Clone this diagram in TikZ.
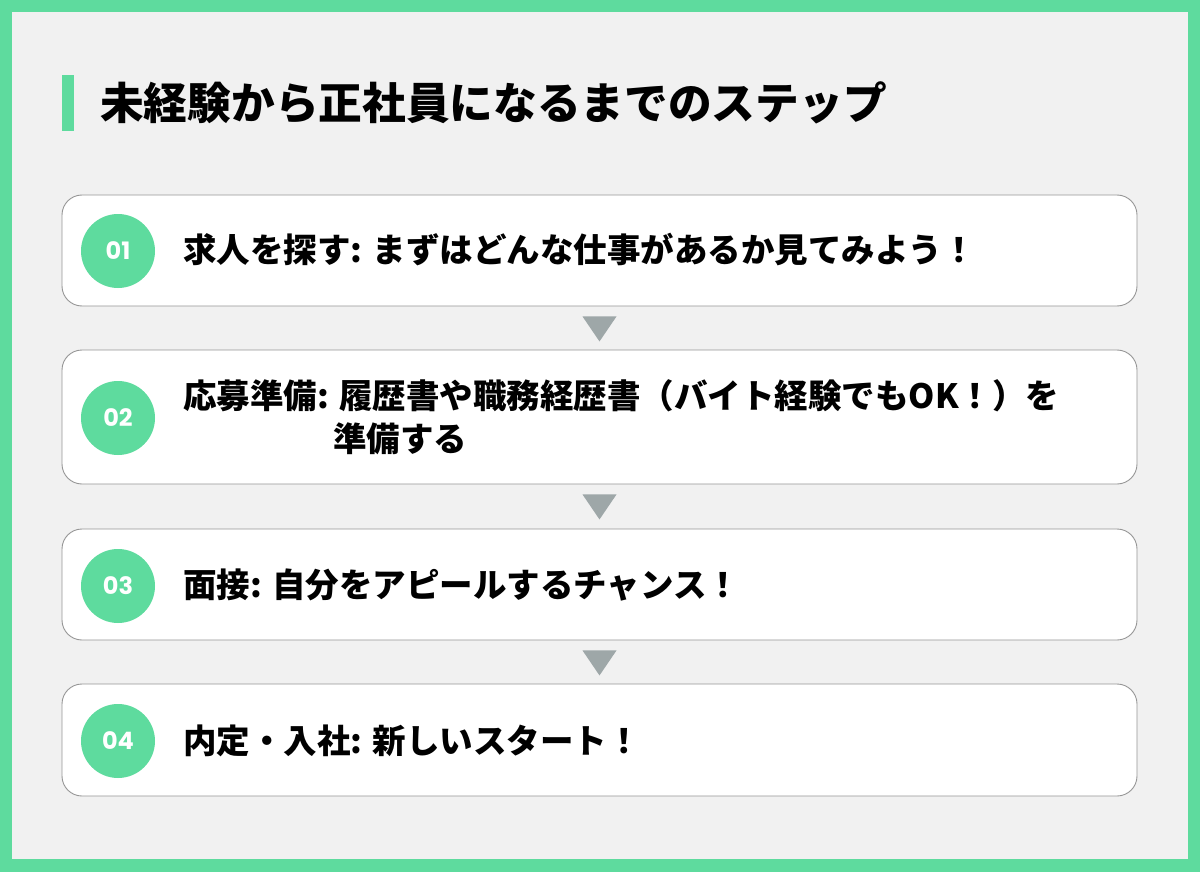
\documentclass[tikz,border=0pt]{standalone}
\usepackage{fontspec}
\newfontfamily\jp{Noto Sans CJK JP}
\newfontfamily\numfont{Poppins}
\usetikzlibrary{calc}
\definecolor{brandgreen}{RGB}{94,219,158}
\definecolor{bggray}{RGB}{241,241,241}
\definecolor{arrowgray}{RGB}{158,167,168}
\definecolor{boxline}{RGB}{150,150,150}
\tikzset{
  stepbox/.style={draw=boxline, line width=0.9pt, fill=white, rounded corners=20pt,
    minimum width=1075pt, inner sep=0pt, rectangle},
  numcircle/.style={circle, fill=brandgreen, minimum size=74pt, inner sep=0pt,
    text=white, font=\numfont\fontsize{24}{24}\selectfont},
  steptext/.style={anchor=west, inner sep=0pt, font=\jp\bfseries\fontsize{33.5}{40}\selectfont, text=black},
  downtri/.style={fill=arrowgray}
}
\begin{document}
\begin{tikzpicture}[x=1pt,y=-1pt]
\useasboundingbox (0,0) rectangle (1200,872);
\fill[brandgreen] (0,0) rectangle (1200,872);
\fill[bggray] (12,12) rectangle (1188,859);
% title
\fill[brandgreen] (62,75) rectangle (74,131);
\node[anchor=west, inner sep=0pt, font=\jp\bfseries\fontsize{43.7}{52}\selectfont] (title) at (100,103) {未経験から正社員になるまでのステップ};
% boxes
\node[stepbox, minimum height=111pt] (b1) at (599.5,250.5) {};
\node[stepbox, minimum height=134pt] (b2) at (599.5,417) {};
\node[stepbox, minimum height=111pt] (b3) at (599.5,584.5) {};
\node[stepbox, minimum height=112pt] (b4) at (599.5,740) {};
% circles
\node[numcircle] (c1) at (118,251) {\textbf{01}};
\node[numcircle] (c2) at (118,418) {\textbf{02}};
\node[numcircle] (c3) at (118,586) {\textbf{03}};
\node[numcircle] (c4) at (118,741) {\textbf{04}};
% texts
\node[steptext] (t1) at (183,250) {求人を探す: まずはどんな仕事があるか見てみよう！};
\node[steptext] (t2a) at (183,396) {応募準備: 履歴書や職務経歴書（バイト経験でもOK！）を};
\node[steptext] (t2b) at (333,439) {準備する};
\node[steptext] (t3) at (183,585) {面接: 自分をアピールするチャンス！};
\node[steptext] (t4) at (183,741) {内定・入社: 新しいスタート！};
% connectors
\fill[downtri] ($(b1.south)+(-17,10)$) -- ($(b1.south)+(17,10)$) -- ($(b1.south)+(0,35)$) -- cycle;
\fill[downtri] ($(b2.south)+(-17,10)$) -- ($(b2.south)+(17,10)$) -- ($(b2.south)+(0,35)$) -- cycle;
\fill[downtri] ($(b3.south)+(-17,10)$) -- ($(b3.south)+(17,10)$) -- ($(b3.south)+(0,35)$) -- cycle;
\end{tikzpicture}
\end{document}
